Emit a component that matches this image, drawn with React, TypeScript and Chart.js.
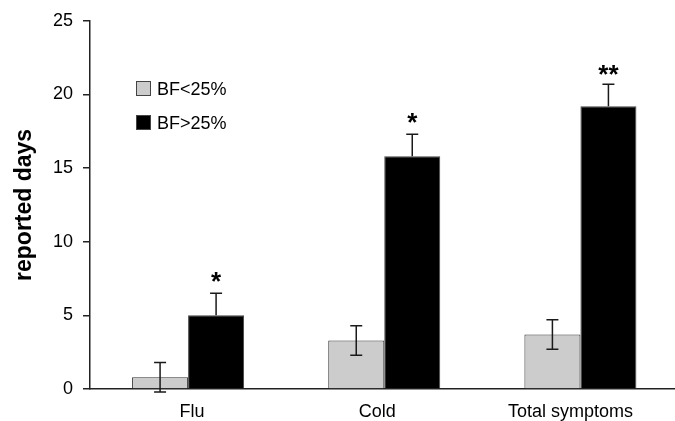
import React, { useEffect, useRef } from "react";
import { Chart, registerables } from "chart.js";

Chart.register(...registerables);

const categories = ["Flu", "Cold", "Total symptoms"];
const seriesNames = ["BF<25%", "BF>25%"];
const leanValues = [0.8, 3.3, 3.7];
const leanErrors = [1.0, 1.0, 1.0];
const heavyValues = [5.0, 15.8, 19.2];
const heavyErrors = [1.5, 1.5, 1.5];
const significance = ["*", "*", "**"];
const yTicks = [0, 5, 10, 15, 20, 25];
const yTitle = "reported days";

const FONT = "'Liberation Sans', Arial, sans-serif";
const labelShift = [4, -7, -10];

const overlayPlugin = {
  id: "overlay",
  afterDatasetsDraw(chart: any) {
    const ctx = chart.ctx;
    const y = chart.scales.y;
    const xs = chart.scales.x;
    const errs = [leanErrors, heavyErrors];
    const vals = [leanValues, heavyValues];
    ctx.save();
    ctx.strokeStyle = "#1a1a1a";
    ctx.lineWidth = 1.5;
    for (let d = 0; d < 2; d++) {
      const meta = chart.getDatasetMeta(d);
      meta.data.forEach((bar: any, i: number) => {
        const x = bar.x;
        const top = y.getPixelForValue(vals[d][i] + errs[d][i]);
        const base = d === 0 ? y.getPixelForValue(vals[d][i] - errs[d][i]) : y.getPixelForValue(vals[d][i]);
        ctx.beginPath();
        ctx.moveTo(x, top);
        ctx.lineTo(x, base);
        ctx.moveTo(x - 6, top);
        ctx.lineTo(x + 6, top);
        if (d === 0) {
          ctx.moveTo(x - 6, base);
          ctx.lineTo(x + 6, base);
        }
        ctx.stroke();
        if (d === 1) {
          ctx.fillStyle = "#000";
          ctx.font = `bold 26px ${FONT}`;
          ctx.textAlign = "center";
          ctx.textBaseline = "alphabetic";
          ctx.fillText(significance[i], x, top - 3 + (i === 2 ? 2 : 0));
        }
      });
    }
    // category labels
    ctx.fillStyle = "#000";
    ctx.font = `18px ${FONT}`;
    ctx.textAlign = "center";
    ctx.textBaseline = "middle";
    categories.forEach((c, i) => {
      ctx.fillText(c, xs.getPixelForValue(i) + labelShift[i], chart.chartArea.bottom + 23);
    });
    // legend
    const colors = ["#cccccc", "#000000"];
    ctx.textAlign = "left";
    for (let k = 0; k < 2; k++) {
      const by = 81 + k * 34;
      ctx.fillStyle = colors[k];
      ctx.fillRect(136, by, 15, 15);
      ctx.strokeStyle = "#444";
      ctx.lineWidth = 1;
      ctx.strokeRect(136.5, by + 0.5, 14, 14);
      ctx.fillStyle = "#000";
      ctx.fillText(seriesNames[k], 157, by + 9.5);
    }
    ctx.restore();
  },
};

export default function App() {
  const ref = useRef<HTMLCanvasElement>(null);
  useEffect(() => {
    const chart = new Chart(ref.current!, {
      type: "bar",
      data: {
        labels: categories,
        datasets: [
          {
            label: seriesNames[0],
            data: leanValues,
            backgroundColor: "#cccccc",
            borderColor: "#333",
            borderWidth: 1,
            categoryPercentage: 0.571,
            barPercentage: 1,
          },
          {
            label: seriesNames[1],
            data: heavyValues,
            backgroundColor: "#000000",
            borderColor: "#444",
            borderWidth: 1,
            categoryPercentage: 0.571,
            barPercentage: 1,
          },
        ],
      },
      options: {
        responsive: false,
        animation: false,
        layout: { padding: { top: 20, right: 11.5, left: 0, bottom: 0 } },
        plugins: { legend: { display: false }, tooltip: { enabled: false } },
        scales: {
          x: {
            grid: { display: false },
            border: { display: true, color: "#222", width: 1.5 },
            ticks: { display: false },
            afterFit: (s: any) => {
              s.height = 32;
            },
          },
          y: {
            min: 0,
            max: 25,
            afterBuildTicks: (s: any) => {
              s.ticks = yTicks.map((v) => ({ value: v }));
            },
            grid: { drawOnChartArea: false, drawTicks: true, tickLength: 7, color: "#222", lineWidth: 1.5 },
            border: { display: true, color: "#222", width: 1.5 },
            ticks: { color: "#000", font: { family: FONT, size: 18 }, padding: 10 },
            title: {
              display: true,
              text: yTitle,
              color: "#000",
              font: { family: FONT, size: 23, weight: "bold" },
              padding: { top: 11, bottom: 0 },
            },
            afterFit: (s: any) => {
              s.width = 90;
            },
          },
        },
      },
      plugins: [overlayPlugin],
    });
    return () => chart.destroy();
  }, []);
  return (
    <div style={{ position: "fixed", left: 0, top: 0, width: 675, height: 421, overflow: "hidden", background: "#fff" }}>
      <canvas ref={ref} width={690} height={421} style={{ width: 690, height: 421, display: "block" }} />
    </div>
  );
}
